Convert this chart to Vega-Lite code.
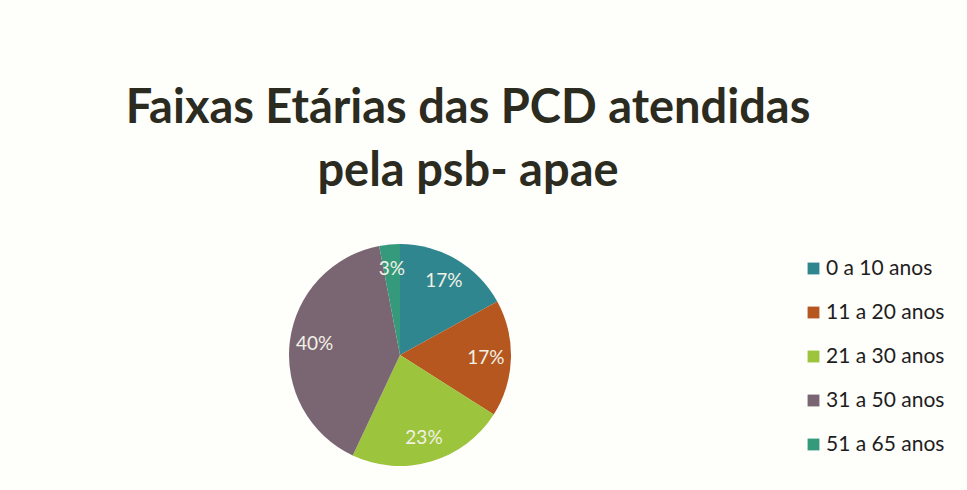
{
  "$schema": "https://vega.github.io/schema/vega-lite/v6.json",
  "width": 800,
  "height": 220,
  "autosize": "none",
  "padding": {"top": 245, "left": 0, "right": 167, "bottom": 25},
  "background": "#fefefb",
  "title": {
    "text": ["Faixas Etárias das PCD atendidas", "pela psb- apae"],
    "anchor": "middle",
    "dx": 68,
    "offset": 48,
    "font": "Lato",
    "fontSize": 47,
    "fontWeight": "bold",
    "color": "#2b2b1f",
    "lineHeight": 63
  },
  "data": {
    "values": [
      {"faixa": "0 a 10 anos", "pct": 17, "rotulo": "17%", "ord": 1},
      {"faixa": "11 a 20 anos", "pct": 17, "rotulo": "17%", "ord": 2},
      {"faixa": "21 a 30 anos", "pct": 23, "rotulo": "23%", "ord": 3},
      {"faixa": "31 a 50 anos", "pct": 40, "rotulo": "40%", "ord": 4},
      {"faixa": "51 a 65 anos", "pct": 3, "rotulo": "3%", "ord": 5}
    ]
  },
  "encoding": {
    "theta": {"field": "pct", "type": "quantitative", "stack": true},
    "order": {"field": "ord", "type": "quantitative"}
  },
  "layer": [
    {
      "mark": {"type": "arc", "outerRadius": 111},
      "encoding": {
        "color": {
          "field": "faixa",
          "type": "nominal",
          "sort": ["0 a 10 anos", "11 a 20 anos", "21 a 30 anos", "31 a 50 anos", "51 a 65 anos"],
          "scale": {
            "domain": ["0 a 10 anos", "11 a 20 anos", "21 a 30 anos", "31 a 50 anos", "51 a 65 anos"],
            "range": ["#30868f", "#b5571f", "#9cc43c", "#7a6673", "#359a7c"]
          },
          "legend": {
            "title": null,
            "orient": "none",
            "legendX": 803,
            "legendY": 13,
            "symbolType": "square",
            "symbolSize": 140,
            "symbolStrokeWidth": 0,
            "labelFont": "Lato",
            "labelFontSize": 21,
            "labelColor": "#1e1e1e",
            "labelOffset": 2,
            "rowPadding": 22,
            "labelLimit": 300
          }
        }
      }
    },
    {
      "mark": {"type": "text", "radius": 86, "font": "Lato", "fontSize": 19},
      "encoding": {
        "text": {"field": "rotulo", "type": "nominal"},
        "color": {"value": "#f2f1e6"}
      }
    }
  ]
}
